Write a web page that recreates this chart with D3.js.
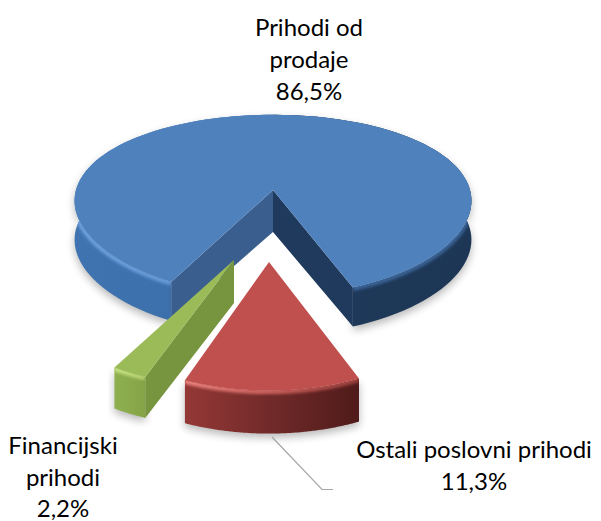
<!DOCTYPE html>
<html>
  <meta charset="utf-8" />
  <script src="https://d3js.org/d3.v7.min.js"></script>
  <style>
    html, body { margin: 0; padding: 0; background: #fff; }
    text { font-family: Lato, "Open Sans", sans-serif; font-size: 24px; fill: #000; text-anchor: middle; }
  </style>
  <body>
    <svg id="my_dataviz" width="601" height="521"></svg>
    <script>
      // Data
      var categories = ["Prihodi od prodaje", "Ostali poslovni prihodi", "Financijski prihodi"]
      var shares = [86.5, 11.3, 2.2]
      var shareLabels = ["86,5%", "11,3%", "2,2%"]

      // Label lines, positions are in the layout below
      var labelLines = [["Prihodi od", "prodaje"], ["Ostali poslovni prihodi"], ["Financijski", "prihodi"]]

      // Layout of each slice: apex on screen, radius, perspective, depth
      var layout = [
        { ax: 273, ay: 190, rx: 197, ry: 88, k: 0.17, kx: 0.12, depth: 39, apexDepth: 42,
          top: "#4f81bd",
          wall: [[0, "#3f74b1"], [0.5, "#3a6ba4"], [0.5, "#1f3a5c"], [1, "#1d3655"]],
          rim: [[0, "#6fa3e0"], [0.5, "#5e92d0"], [0.5, "#3a6496"], [1, "#3a6496"]],
          faces: [{ end: "end", fill: "#1f3a5c" }, { end: "start", fill: "#3a5f8f" }] },
        { ax: 269, ay: 262, rx: 180, ry: 90, k: 0.3, kx: 0.3, depth: 43, apexDepth: 43,
          top: "#c0504d",
          wall: [[0, "#943836"], [0.5, "#702a29"], [1, "#4f1b1a"]],
          rim: [[0, "#ee8480"], [0.5, "#cc5f5b"], [1, "#9a3f3c"]],
          faces: [] },
        { ax: 234, ay: 260, rx: 190, ry: 89, k: 0.3, kx: 0.3, depth: 41, apexDepth: 43,
          top: "#9bbb59",
          wall: [[0, "#8fb04f"], [1, "#84a347"]],
          rim: [[0, "#c8e484"], [1, "#b4d06c"]],
          faces: [{ end: "start", fill: "#77953e" }] }
      ]

      var labelPos = [
        { x: 309, y: [36, 68, 100] },
        { x: 474, y: [458, 490] },
        { x: 63, y: [454, 486, 517] }
      ]

      var svg = d3.select("svg")
      var defs = svg.append("defs")

      defs.append("filter").attr("id", "soft").attr("x", "-20%").attr("y", "-20%").attr("width", "140%").attr("height", "140%")
        .append("feGaussianBlur").attr("stdDeviation", 4)
      defs.append("filter").attr("id", "rimBlur").attr("x", "-10%").attr("y", "-30%").attr("width", "120%").attr("height", "160%")
        .append("feGaussianBlur").attr("stdDeviation", 1.6)

      // Slices run clockwise from the first cut
      var pie = d3.pie().sort(null)
        .startAngle((207.5 * Math.PI) / 180)
        .endAngle((567.5 * Math.PI) / 180)
      var arcs = pie(shares)

      var line = d3.line()

      // Angle and radius on the disc to screen position
      function project(s, angle, r) {
        var u = r * Math.sin(angle)
        var v = -r * Math.cos(angle)
        return [s.ax + (s.rx * u) / (1 - s.kx * v), s.ay + (s.ry * v) / (1 - s.k * v)]
      }

      function arcPoints(s, a) {
        return d3.range(0, 121).map(function(i) {
          return project(s, a.startAngle + ((a.endAngle - a.startAngle) * i) / 120, 1)
        })
      }

      function down(points, d) {
        return points.map(function(p) { return [p[0], p[1] + d] })
      }

      function addGradient(id, stops, x) {
        var grad = defs.append("linearGradient").attr("id", id)
          .attr("gradientUnits", "userSpaceOnUse")
          .attr("x1", x[0]).attr("x2", x[1]).attr("y1", 0).attr("y2", 0)
        stops.forEach(function(c) {
          grad.append("stop").attr("offset", c[0]).attr("stop-color", c[1])
        })
      }

      function drawSlice(i) {
        var s = layout[i]
        var a = arcs[i]
        var g = svg.append("g")
        var outer = arcPoints(s, a)
        var apex = [s.ax, s.ay]
        var lower = down(outer, s.depth)
        var wallShape = outer.concat(lower.slice().reverse())
        var topShape = [apex].concat(outer)
        var x = d3.extent(outer, function(p) { return p[0] })

        // Soft shadow under the slice
        g.append("path")
          .attr("d", line(down(wallShape, 4)) + "Z")
          .attr("fill", "#000")
          .attr("opacity", 0.28)
          .attr("filter", "url(#soft)")

        addGradient("wall" + i, s.wall, x)
        addGradient("rim" + i, s.rim, x)

        g.append("path").attr("d", line(wallShape) + "Z").attr("fill", "url(#wall" + i + ")")

        // Bevel highlight at the top of the outer wall
        defs.append("clipPath").attr("id", "wallClip" + i)
          .append("path").attr("d", line(wallShape) + "Z")
        g.append("g").attr("clip-path", "url(#wallClip" + i + ")")
          .append("path")
          .attr("d", line(down(outer, 1)))
          .attr("fill", "none")
          .attr("stroke", "url(#rim" + i + ")")
          .attr("stroke-width", 5)
          .attr("filter", "url(#rimBlur)")

        // Cut faces
        s.faces.forEach(function(f) {
          var p = project(s, f.end === "start" ? a.startAngle : a.endAngle, 1)
          var face = [apex, p, [p[0], p[1] + s.depth], [apex[0], apex[1] + s.apexDepth]]
          g.append("path").attr("d", line(face) + "Z").attr("fill", f.fill)
        })

        g.append("path").attr("d", line(topShape) + "Z").attr("fill", s.top)
      }

      // Back to front
      drawSlice(0)
      drawSlice(2)
      drawSlice(1)

      // Leader line of the red slice
      var leader = d3.path()
      leader.moveTo(272, 437)
      leader.lineTo(322, 489.5)
      leader.lineTo(333, 489.5)
      svg.append("path").attr("d", leader.toString()).attr("fill", "none").attr("stroke", "#a6a6a6").attr("stroke-width", 1.2)

      // Labels
      categories.forEach(function(c, i) {
        var rows = labelLines[i].concat([shareLabels[i]])
        svg.append("g").selectAll("text").data(rows).enter().append("text")
          .attr("x", labelPos[i].x)
          .attr("y", function(d, j) { return labelPos[i].y[j] })
          .text(function(d) { return d })
      })
    </script>
  </body>
</html>
